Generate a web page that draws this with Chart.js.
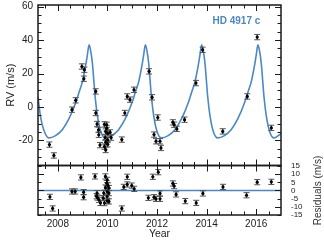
<!DOCTYPE html>
<html><head><meta charset="utf-8">
<script src="https://cdn.jsdelivr.net/npm/chart.js@4"></script>
<style>
html,body{margin:0;padding:0;background:#fff;}
#wrap{position:relative;width:324px;height:243px;overflow:hidden;}
canvas{position:absolute;left:0;top:0;}
</style></head><body>
<div id="wrap"><canvas id="top" width="324" height="243"></canvas><canvas id="bot" width="324" height="243"></canvas></div>
<script>
// ---- axis definitions ----
const xRange = [2007.2, 2017.0];
const yearTicks = [2008, 2010, 2012, 2014, 2016];
const yearMinorTicks = [2007.5, 2008.5, 2009, 2009.5, 2010.5, 2011, 2011.5, 2012.5, 2013, 2013.5, 2014.5, 2015, 2015.5, 2016.5];
const rvRange = [-35, 61];
const rvTicks = [-20, 0, 20, 40, 60];
const rvMinorTicks = [-30, -25, -15, -10, -5, 5, 10, 15, 25, 30, 35, 45, 50, 55];
const resRange = [-15, 15.3];
const resTicks = [-15, -10, -5, 0, 5, 10, 15];
const resMajorTicks = [-10, 0, 10];
const resMinorTicks = [-15, -5, 5, 15];

// ---- observed radial velocities ----
const obsYear = [2007.66, 2007.84, 2008.57, 2008.72, 2008.97, 2009.07, 2009.05, 2009.53, 2009.53, 2009.58,
  2009.64, 2009.65, 2009.70, 2009.88, 2009.97, 2009.97, 2009.93, 2010.01, 2009.91, 2010.01,
  2009.93, 2010.01, 2009.88, 2009.93, 2010.11, 2010.15, 2010.58, 2010.70, 2010.80, 2010.91,
  2011.07, 2011.68, 2011.80, 2011.88, 2011.96, 2012.03, 2012.12, 2012.16, 2012.64, 2012.69,
  2012.80, 2013.11, 2013.57, 2013.84, 2014.65, 2015.64, 2016.04, 2016.61];
const obsRV = [-22.5, -29.0, -1.6, 4.0, 24.2, 22.3, 16.9, 9.3, -3.6, -10.2,
  -13.7, -16.6, -22.8, -10.4, -10.7, -12.8, -14.7, -15.8, -18.3, -19.7,
  -21.1, -22.3, -23.7, -25.7, -15.2, -18.3, -19.5, -3.6, 6.3, 4.4,
  10.3, 21.3, 5.8, -16.5, -20.5, -6.3, -20.5, -24.5, -9.2, -10.6,
  -13.1, -7.6, 14.3, 34.2, -14.6, 6.3, 41.8, -12.5];
const rvError = 1.6;

// ---- Keplerian model curve ----
const modelYear = [2007.2, 2007.30, 2007.43, 2007.64,
  2007.91, 2008.18, 2008.45, 2008.72, 2008.86, 2008.99, 2009.06, 2009.13, 2009.195, 2009.26, 2009.325, 2009.395, 2009.45, 2009.505, 2009.60, 2009.73, 2009.91,
  2010.18, 2010.45, 2010.72, 2010.99, 2011.13, 2011.26, 2011.33, 2011.40, 2011.465, 2011.53, 2011.595, 2011.665, 2011.72, 2011.775, 2011.87, 2012.00, 2012.18,
  2012.45, 2012.72, 2012.99, 2013.26, 2013.40, 2013.53, 2013.60, 2013.67, 2013.735, 2013.80, 2013.865, 2013.935, 2013.99, 2014.045, 2014.14, 2014.27, 2014.45,
  2014.72, 2014.99, 2015.26, 2015.53, 2015.67, 2015.80, 2015.87, 2015.94, 2016.005, 2016.07, 2016.135, 2016.205, 2016.26, 2016.315, 2016.41, 2016.54, 2016.72,
  2017.0];
const modelRV = [6.0, -5.6, -13.6, -18.5,
  -17.1, -13.6, -7.0, 2.5, 9.0, 15.0, 20.0, 25.5, 31.5, 37.2, 33.5, 26.0, 16.0, 6.0, -5.6, -14.6, -18.5,
  -17.1, -13.6, -7.0, 2.5, 9.0, 15.0, 20.0, 25.5, 31.5, 37.2, 33.5, 26.0, 16.0, 6.0, -5.6, -14.6, -18.5,
  -17.1, -13.6, -7.0, 2.5, 9.0, 15.0, 20.0, 25.5, 31.5, 37.2, 33.5, 26.0, 16.0, 6.0, -5.6, -14.6, -18.5,
  -17.1, -13.6, -7.0, 2.5, 9.0, 15.0, 20.0, 25.5, 31.5, 37.2, 33.5, 26.0, 16.0, 6.0, -5.6, -14.6, -18.5,
  -16.0];

// ---- residuals ----
const resYear = [2007.68, 2007.79, 2008.57, 2008.70, 2008.93, 2009.04, 2009.04, 2009.50, 2009.56, 2009.58,
  2009.60, 2009.66, 2009.72, 2009.92, 2009.99, 2009.97, 2010.02, 2009.92, 2010.06, 2009.99,
  2009.85, 2010.06, 2009.99, 2009.83, 2009.99, 2009.88, 2010.06, 2010.58, 2010.66, 2010.80,
  2010.80, 2010.98, 2011.08, 2011.65, 2011.83, 2011.88, 2011.96, 2012.05, 2012.12, 2012.12,
  2012.64, 2012.69, 2012.77, 2013.14, 2013.58, 2013.85, 2014.66, 2015.61, 2016.04, 2016.61];
const resVal = [-3.9, -11.0, -0.6, -0.6, 8.0, -1.0, -4.1, 8.6, -3.5, -1.6,
  -4.3, -5.7, -7.6, 8.6, 6.5, 4.5, 3.1, 1.8, 1.5, -0.6,
  -1.6, -1.6, -3.7, -4.7, -6.3, -7.7, -6.7, -11.0, 2.2, 8.4,
  3.7, 3.0, 1.0, -4.5, 8.4, -4.1, -5.1, 11.2, -5.1, -1.8,
  4.3, 2.7, -2.4, -6.5, -7.6, -1.8, 2.2, -2.9, 5.1, 5.3];
const resError = 1.6;

const FONT = '"Liberation Sans", Arial, Helvetica, sans-serif';
Chart.defaults.font.family = FONT;
Chart.defaults.color = '#222';

const blue = '#4a88c6';

// frame + inward ticks
const frameTicks = {
  id: 'frameTicks',
  afterDraw(chart, args, o) {
    const {ctx, chartArea: a, scales} = chart;
    const xs = scales.x, ys = scales.y;
    ctx.save();
    ctx.strokeStyle = '#1a1a1a';
    ctx.lineWidth = 1;
    const xt = (vals, len) => vals.forEach(v => {
      const px = Math.round(xs.getPixelForValue(v)) + 0.5;
      ctx.beginPath();
      ctx.moveTo(px, a.top); ctx.lineTo(px, a.top + len);
      ctx.moveTo(px, a.bottom); ctx.lineTo(px, a.bottom - len);
      ctx.stroke();
    });
    const yt = (vals, len) => vals.forEach(v => {
      const py = Math.round(ys.getPixelForValue(v)) + 0.5;
      ctx.beginPath();
      ctx.moveTo(a.left, py); ctx.lineTo(a.left + len, py);
      ctx.moveTo(a.right, py); ctx.lineTo(a.right - len, py);
      ctx.stroke();
    });
    xt(o.xMajor, o.majorLen); xt(o.xMinor, o.minorLen);
    yt(o.yMajor, o.majorLen); yt(o.yMinor, o.minorLen);
    ctx.lineWidth = 1.5;
    ctx.strokeRect(a.left, a.top, a.right - a.left, a.bottom - a.top);
    ctx.restore();
  }
};

// error bars drawn just before the point dataset
const errBars = {
  id: 'errBars',
  beforeDatasetDraw(chart, args, o) {
    if (args.index !== 0) return;
    const {ctx, scales} = chart;
    const ds = chart.data.datasets[0].data;
    ctx.save();
    ctx.beginPath();
    const a = chart.chartArea;
    ctx.rect(a.left, a.top, a.right - a.left, a.bottom - a.top);
    ctx.clip();
    ds.forEach(p => {
      const px = scales.x.getPixelForValue(p.x);
      const y1 = scales.y.getPixelForValue(p.y + o.err);
      const y2 = scales.y.getPixelForValue(p.y - o.err);
      ctx.strokeStyle = '#111';
      ctx.lineWidth = 1.2;
      ctx.beginPath(); ctx.moveTo(px, y1); ctx.lineTo(px, y2); ctx.stroke();
      ctx.strokeStyle = '#555';
      ctx.lineWidth = 1;
      ctx.beginPath();
      ctx.moveTo(px - 3, y1); ctx.lineTo(px + 3, y1);
      ctx.moveTo(px - 3, y2); ctx.lineTo(px + 3, y2);
      ctx.stroke();
    });
    ctx.restore();
  }
};

// free text labels
const textLabels = {
  id: 'textLabels',
  afterDraw(chart, args, o) {
    const ctx = chart.ctx;
    (o.items || []).forEach(t => {
      ctx.save();
      ctx.font = t.font;
      ctx.fillStyle = t.color;
      ctx.textAlign = t.align || 'left';
      ctx.textBaseline = 'middle';
      ctx.translate(t.x, t.y);
      if (t.rot) ctx.rotate(t.rot);
      ctx.fillText(t.text, 0, 0);
      ctx.restore();
    });
  }
};

function zeroPad(s) { s.paddingTop = 0; s.paddingBottom = 0; s.paddingLeft = 0; s.paddingRight = 0; }

// ---- top panel ----
new Chart(document.getElementById('top'), {
  type: 'scatter',
  data: {
    datasets: [
      { data: obsYear.map((x, i) => ({x, y: obsRV[i]})), backgroundColor: '#000', borderColor: '#000', pointRadius: 1.6, pointBorderWidth: 0, showLine: false },
      { data: modelYear.map((x, i) => ({x, y: modelRV[i]})), showLine: true, borderColor: blue, borderWidth: 1.6, pointRadius: 0, cubicInterpolationMode: 'monotone', fill: false }
    ]
  },
  options: {
    responsive: false, animation: false, events: [],
    layout: { padding: { top: 5, right: 43, bottom: 77.5, left: 0 } },
    plugins: {
      legend: { display: false }, tooltip: { enabled: false },
      frameTicks: { xMajor: yearTicks, xMinor: yearMinorTicks, yMajor: rvTicks, yMinor: rvMinorTicks, majorLen: 6, minorLen: 3.5 },
      errBars: { err: rvError },
      textLabels: { items: [ { text: 'HD 4917 c', x: 212.5, y: 21.5, font: 'bold 10px ' + FONT, color: '#4d87c4' } ] }
    },
    scales: {
      x: { type: 'linear', min: xRange[0], max: xRange[1], display: false },
      y: {
        type: 'linear', position: 'left', min: rvRange[0], max: rvRange[1],
        afterBuildTicks: s => { s.ticks = rvTicks.map(v => ({value: v})); },
        afterFit: s => { s.width = 38; zeroPad(s); },
        grid: { display: false, drawTicks: false }, border: { display: false },
        ticks: { padding: 5, font: { size: 10 }, color: '#222' },
        title: { display: true, text: 'RV (m/s)', font: { size: 11 }, color: '#222', padding: { top: 4, bottom: 0 } }
      }
    }
  },
  plugins: [frameTicks, errBars, textLabels]
});

// ---- residual panel ----
new Chart(document.getElementById('bot'), {
  type: 'scatter',
  data: {
    datasets: [
      { data: resYear.map((x, i) => ({x, y: resVal[i]})), backgroundColor: '#000', borderColor: '#000', pointRadius: 1.6, pointBorderWidth: 0, showLine: false },
      { data: [{x: xRange[0], y: 0}, {x: xRange[1], y: 0}], showLine: true, borderColor: blue, borderWidth: 1.6, pointRadius: 0, fill: false }
    ]
  },
  options: {
    responsive: false, animation: false, events: [],
    layout: { padding: { top: 165.5, right: 0, bottom: 0, left: 38 } },
    plugins: {
      legend: { display: false }, tooltip: { enabled: false },
      frameTicks: { xMajor: yearTicks, xMinor: yearMinorTicks, yMajor: resMajorTicks, yMinor: resMinorTicks, majorLen: 6, minorLen: 3.5 },
      errBars: { err: resError },
      textLabels: { items: [ { text: 'Residuals (m/s)', x: 318, y: 190.5, rot: -Math.PI / 2, align: 'center', font: '10px ' + FONT, color: '#333' } ] }
    },
    scales: {
      x: {
        type: 'linear', position: 'bottom', min: xRange[0], max: xRange[1],
        afterBuildTicks: s => { s.ticks = yearTicks.map(v => ({value: v})); },
        afterFit: s => { s.height = 28; zeroPad(s); },
        grid: { display: false, drawTicks: false }, border: { display: false },
        ticks: { padding: 3, font: { size: 10 }, color: '#222', maxRotation: 0, autoSkip: false, callback: v => String(v) },
        title: { display: true, text: 'Year', font: { size: 10.5 }, color: '#222', padding: { top: 0, bottom: 3 } }
      },
      y: {
        type: 'linear', position: 'right', min: resRange[0], max: resRange[1],
        afterBuildTicks: s => { s.ticks = resTicks.map(v => ({value: v})); },
        afterFit: s => { s.width = 43; zeroPad(s); },
        grid: { display: false, drawTicks: false }, border: { display: false },
        ticks: { padding: 10, font: { size: 8 }, color: '#222', autoSkip: false },
      }
    }
  },
  plugins: [frameTicks, errBars, textLabels]
});
</script>
</body></html>
